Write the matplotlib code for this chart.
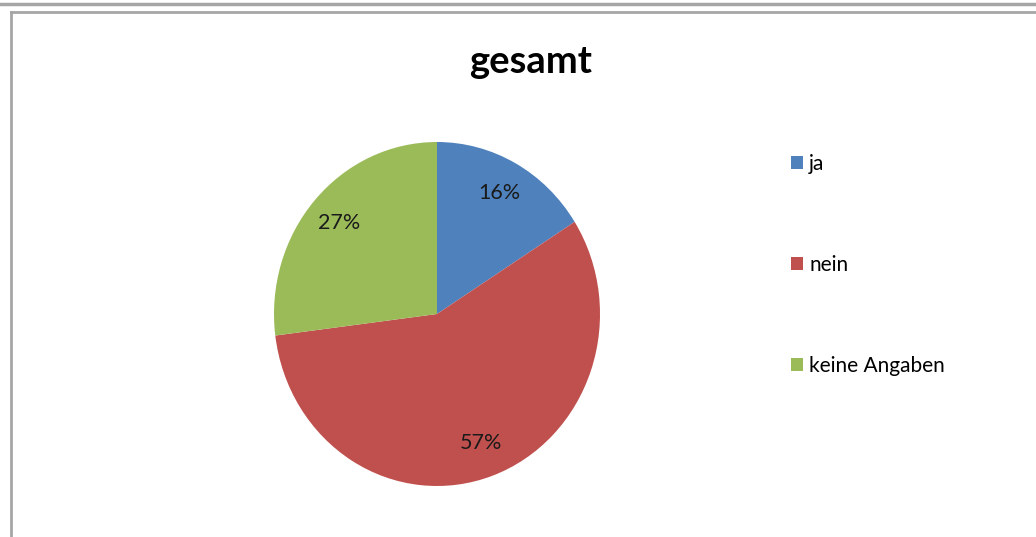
import matplotlib.pyplot as plt
from matplotlib.lines import Line2D
from matplotlib.patches import Patch

# Daten
labels = ['ja', 'nein', 'keine Angaben']
values = [16, 57, 27]
colors = ['#4F81BD', '#C0504D', '#9BBB59']

plt.rcParams['font.family'] = ['Lato', 'DejaVu Sans']

W, H = 1036, 537
fig = plt.figure(figsize=(W / 100, H / 100), dpi=100)

# Rahmenlinien
fig.add_artist(Line2D([0, 1], [1 - 4 / H, 1 - 4 / H], transform=fig.transFigure,
                      color='#A6A6A6', lw=2.5))
fig.add_artist(Line2D([11 / W, 1], [1 - 11.5 / H, 1 - 11.5 / H], transform=fig.transFigure,
                      color='#A6A6A6', lw=2))
fig.add_artist(Line2D([11 / W, 11 / W], [0, 1 - 11.5 / H], transform=fig.transFigure,
                      color='#A6A6A6', lw=2))

# Kreisdiagramm
cx, cy, rx, ry = 437, 314, 163, 172
ax = fig.add_axes([(cx - rx) / W, 1 - (cy + ry) / H, 2 * rx / W, 2 * ry / H])
wedges, texts, autotexts = ax.pie(values, colors=colors, startangle=90, counterclock=False,
                                  autopct='%d%%', pctdistance=0.8,
                                  textprops={'fontsize': 15.5, 'color': '#1a1a1a'})
ax.set_aspect('auto')
ax.set_xlim(-1, 1)
ax.set_ylim(-1, 1)

fig.text(531 / W, 1 - 62 / H, 'gesamt', ha='center', va='center',
         fontsize=27.5, fontweight='bold')

handles = [Patch(facecolor=c, edgecolor='none') for c in colors]
fig.legend(handles, labels, loc='upper left', bbox_to_anchor=(772 / W, 1 - 135 / H),
           frameon=False, fontsize=15, labelspacing=3.9, handlelength=0.58,
           handleheight=0.58, handletextpad=0.3)

plt.savefig('out.png', dpi=100)
